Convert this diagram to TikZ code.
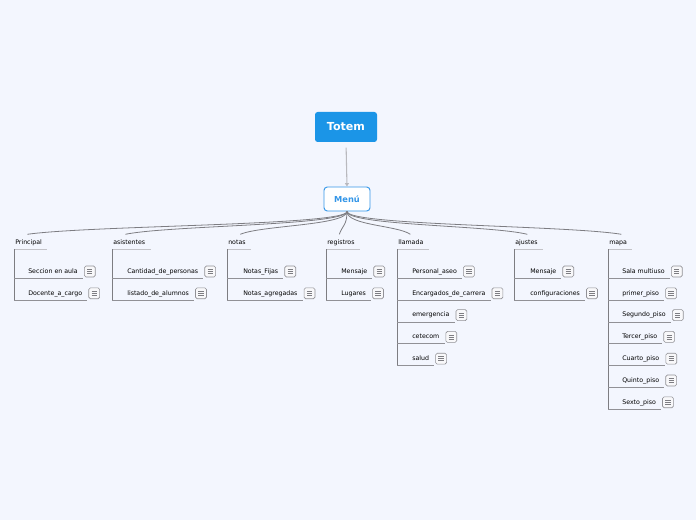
\documentclass[tikz,border=0pt]{standalone}
\usepackage{fontspec}
\setmainfont{DejaVu Sans}
\usepackage{tikz}
\usetikzlibrary{positioning,arrows.meta,calc}
\definecolor{mapbg}{RGB}{243,246,254}
\definecolor{totemblue}{RGB}{27,149,231}
\definecolor{menublue}{RGB}{52,150,232}
\definecolor{linegray}{RGB}{125,125,130}
\definecolor{leafgray}{RGB}{145,145,150}
\definecolor{ulgray}{RGB}{195,195,200}
\definecolor{arrowgray}{RGB}{185,185,190}
\definecolor{notefill}{RGB}{248,248,250}

\begin{document}
\begin{tikzpicture}[
  x=0.75pt,y=-0.75pt,
  root/.style={fill=totemblue,text=white,rounded corners=2pt,font=\fontsize{8.3}{10}\selectfont\bfseries,minimum width=46.5pt,minimum height=22.5pt,inner sep=0pt},
  hub/.style={draw=menublue,line width=0.7pt,fill=white,text=menublue,rounded corners=2.5pt,font=\fontsize{6.2}{7.5}\selectfont\bfseries,minimum width=34.5pt,minimum height=18pt,inner sep=0pt},
  topic/.style={anchor=south west,font=\fontsize{4.7}{5.6}\selectfont,text height=3.6pt,text depth=1pt,inner xsep=0.75pt,inner ysep=2.2pt},
  leaf/.style={anchor=west,font=\fontsize{4.7}{5.6}\selectfont,text height=3.6pt,text depth=1pt,inner xsep=0pt,inner ysep=2.7pt},
  note/.style={draw=leafgray,line width=0.45pt,fill=notefill,rounded corners=1.2pt,minimum width=8.2pt,minimum height=8.2pt,inner sep=0pt,
    path picture={
      \draw[linegray,line width=0.45pt] ([xshift=-2pt,yshift=1.5pt]path picture bounding box.center) -- ([xshift=2pt,yshift=1.5pt]path picture bounding box.center);
      \draw[linegray,line width=0.45pt] ([xshift=-2pt]path picture bounding box.center) -- ([xshift=2pt]path picture bounding box.center);
      \draw[linegray,line width=0.45pt] ([xshift=-2pt,yshift=-1.5pt]path picture bounding box.center) -- ([xshift=2pt,yshift=-1.5pt]path picture bounding box.center);
    }},
  ar/.style={-{Triangle[length=2.6pt,width=3pt]},arrowgray,line width=0.8pt,shorten <=4pt},
  branch/.style={linegray,line width=0.6pt},
  trunk/.style={linegray,line width=0.6pt},
  uline/.style={ulgray,line width=0.6pt},
  cline/.style={leafgray,line width=0.55pt}
]
\path[use as bounding box,fill=mapbg] (0,0) rectangle (696,520);

% root and hub
\node[root] (totem) at (346,127) {Totem};
\node[hub] (menu) at (347,199) {Menú};
\draw[ar] (totem.south) -- (menu.north);

% topics
\node[topic] (prin) at (14,249.5) {Principal};
\node[topic] (asis) at (112,249.5) {asistentes};
\node[topic] (notas) at (227,249.5) {notas};
\node[topic] (regis) at (326,249.5) {registros};
\node[topic] (llam) at (397,249.5) {llamada};
\node[topic] (ajus) at (514,249.5) {ajustes};
\node[topic] (mapa) at (608,249.5) {mapa};

\foreach \t in {prin,asis,notas,regis,llam,ajus,mapa}
  \draw[uline] (\t.south west) -- ([xshift=3pt]\t.south east);

% curves from the hub
\coordinate (prin-in) at ([xshift=10pt,yshift=2pt]prin.north west);
\coordinate (asis-in) at ([xshift=10pt,yshift=2pt]asis.north west);
\coordinate (notas-in) at ([xshift=10pt,yshift=2pt]notas.north west);
\coordinate (regis-in) at ([xshift=10pt,yshift=2pt]regis.north west);
\coordinate (llam-in) at ([xshift=10pt,yshift=2pt]llam.north west);
\coordinate (ajus-in) at ([xshift=10pt,yshift=2pt]ajus.north west);
\coordinate (mapa-in) at ([xshift=10pt,yshift=2pt]mapa.north west);

\draw[branch] (menu.south) .. controls +(0,14) and +(64,-9) .. (prin-in);
\draw[branch] (menu.south) .. controls +(0,14) and +(44,-9) .. (asis-in);
\draw[branch] (menu.south) .. controls +(0,14) and +(21,-9) .. (notas-in);
\draw[branch] (menu.south) .. controls +(0,14) and +(3,-9) .. (regis-in);
\draw[branch] (menu.south) .. controls +(0,14) and +(-13,-9) .. (llam-in);
\draw[branch] (menu.south) .. controls +(0,14) and +(-36,-9) .. (ajus-in);
\draw[branch] (menu.south) .. controls +(0,14) and +(-55,-9) .. (mapa-in);

% Principal
\node[leaf] (prin1) at (28,271.5) {Seccion en aula};
\node[leaf] (prin2) at (28,293.3) {Docente\_a\_cargo};
\node[note,right=4.5pt of prin1] (prin1n) {};
\node[note,right=4.5pt of prin2] (prin2n) {};
\draw[trunk] (prin.south west) -- (prin.south west |- prin2.south);
\draw[cline] (prin.south west |- prin1.south) -- ([xshift=-0.75pt]prin1n.west |- prin1.south);
\draw[cline] (prin.south west |- prin2.south) -- ([xshift=-0.75pt]prin2n.west |- prin2.south);

% asistentes
\node[leaf] (asis1) at (127,271.5) {Cantidad\_de\_personas};
\node[leaf] (asis2) at (127,293.3) {listado\_de\_alumnos};
\node[note,right=4.5pt of asis1] (asis1n) {};
\node[note,right=4.5pt of asis2] (asis2n) {};
\draw[trunk] (asis.south west) -- (asis.south west |- asis2.south);
\draw[cline] (asis.south west |- asis1.south) -- ([xshift=-0.75pt]asis1n.west |- asis1.south);
\draw[cline] (asis.south west |- asis2.south) -- ([xshift=-0.75pt]asis2n.west |- asis2.south);

% notas
\node[leaf] (notas1) at (243,271.5) {Notas\_Fijas};
\node[leaf] (notas2) at (243,293.3) {Notas\_agregadas};
\node[note,right=4.5pt of notas1] (notas1n) {};
\node[note,right=4.5pt of notas2] (notas2n) {};
\draw[trunk] (notas.south west) -- (notas.south west |- notas2.south);
\draw[cline] (notas.south west |- notas1.south) -- ([xshift=-0.75pt]notas1n.west |- notas1.south);
\draw[cline] (notas.south west |- notas2.south) -- ([xshift=-0.75pt]notas2n.west |- notas2.south);

% registros
\node[leaf] (regis1) at (341,271.5) {Mensaje};
\node[leaf] (regis2) at (341,293.3) {Lugares};
\node[note,right=4.5pt of regis1] (regis1n) {};
\node[note,right=4.5pt of regis2] (regis2n) {};
\draw[trunk] (regis.south west) -- (regis.south west |- regis2.south);
\draw[cline] (regis.south west |- regis1.south) -- ([xshift=-0.75pt]regis1n.west |- regis1.south);
\draw[cline] (regis.south west |- regis2.south) -- ([xshift=-0.75pt]regis2n.west |- regis2.south);

% llamada
\node[leaf] (llam1) at (412,271.5) {Personal\_aseo};
\node[leaf] (llam2) at (412,293.3) {Encargados\_de\_carrera};
\node[leaf] (llam3) at (412,315.1) {emergencia};
\node[leaf] (llam4) at (412,336.9) {cetecom};
\node[leaf] (llam5) at (412,358.7) {salud};
\node[note,right=4.5pt of llam1] (llam1n) {};
\node[note,right=4.5pt of llam2] (llam2n) {};
\node[note,right=4.5pt of llam3] (llam3n) {};
\node[note,right=4.5pt of llam4] (llam4n) {};
\node[note,right=4.5pt of llam5] (llam5n) {};
\draw[trunk] (llam.south west) -- (llam.south west |- llam5.south);
\draw[cline] (llam.south west |- llam1.south) -- ([xshift=-0.75pt]llam1n.west |- llam1.south);
\draw[cline] (llam.south west |- llam2.south) -- ([xshift=-0.75pt]llam2n.west |- llam2.south);
\draw[cline] (llam.south west |- llam3.south) -- ([xshift=-0.75pt]llam3n.west |- llam3.south);
\draw[cline] (llam.south west |- llam4.south) -- ([xshift=-0.75pt]llam4n.west |- llam4.south);
\draw[cline] (llam.south west |- llam5.south) -- ([xshift=-0.75pt]llam5n.west |- llam5.south);

% ajustes
\node[leaf] (ajus1) at (530,271.5) {Mensaje};
\node[leaf] (ajus2) at (530,293.3) {configuraciones};
\node[note,right=4.5pt of ajus1] (ajus1n) {};
\node[note,right=4.5pt of ajus2] (ajus2n) {};
\draw[trunk] (ajus.south west) -- (ajus.south west |- ajus2.south);
\draw[cline] (ajus.south west |- ajus1.south) -- ([xshift=-0.75pt]ajus1n.west |- ajus1.south);
\draw[cline] (ajus.south west |- ajus2.south) -- ([xshift=-0.75pt]ajus2n.west |- ajus2.south);

% mapa
\node[leaf] (mapa1) at (622,271.5) {Sala multiuso};
\node[leaf] (mapa2) at (622,293.3) {primer\_piso};
\node[leaf] (mapa3) at (622,315.1) {Segundo\_piso};
\node[leaf] (mapa4) at (622,336.9) {Tercer\_piso};
\node[leaf] (mapa5) at (622,358.7) {Cuarto\_piso};
\node[leaf] (mapa6) at (622,380.5) {Quinto\_piso};
\node[leaf] (mapa7) at (622,402.3) {Sexto\_piso};
\node[note,right=4.5pt of mapa1] (mapa1n) {};
\node[note,right=4.5pt of mapa2] (mapa2n) {};
\node[note,right=4.5pt of mapa3] (mapa3n) {};
\node[note,right=4.5pt of mapa4] (mapa4n) {};
\node[note,right=4.5pt of mapa5] (mapa5n) {};
\node[note,right=4.5pt of mapa6] (mapa6n) {};
\node[note,right=4.5pt of mapa7] (mapa7n) {};
\draw[trunk] (mapa.south west) -- (mapa.south west |- mapa7.south);
\draw[cline] (mapa.south west |- mapa1.south) -- ([xshift=-0.75pt]mapa1n.west |- mapa1.south);
\draw[cline] (mapa.south west |- mapa2.south) -- ([xshift=-0.75pt]mapa2n.west |- mapa2.south);
\draw[cline] (mapa.south west |- mapa3.south) -- ([xshift=-0.75pt]mapa3n.west |- mapa3.south);
\draw[cline] (mapa.south west |- mapa4.south) -- ([xshift=-0.75pt]mapa4n.west |- mapa4.south);
\draw[cline] (mapa.south west |- mapa5.south) -- ([xshift=-0.75pt]mapa5n.west |- mapa5.south);
\draw[cline] (mapa.south west |- mapa6.south) -- ([xshift=-0.75pt]mapa6n.west |- mapa6.south);
\draw[cline] (mapa.south west |- mapa7.south) -- ([xshift=-0.75pt]mapa7n.west |- mapa7.south);

\end{tikzpicture}
\end{document}
